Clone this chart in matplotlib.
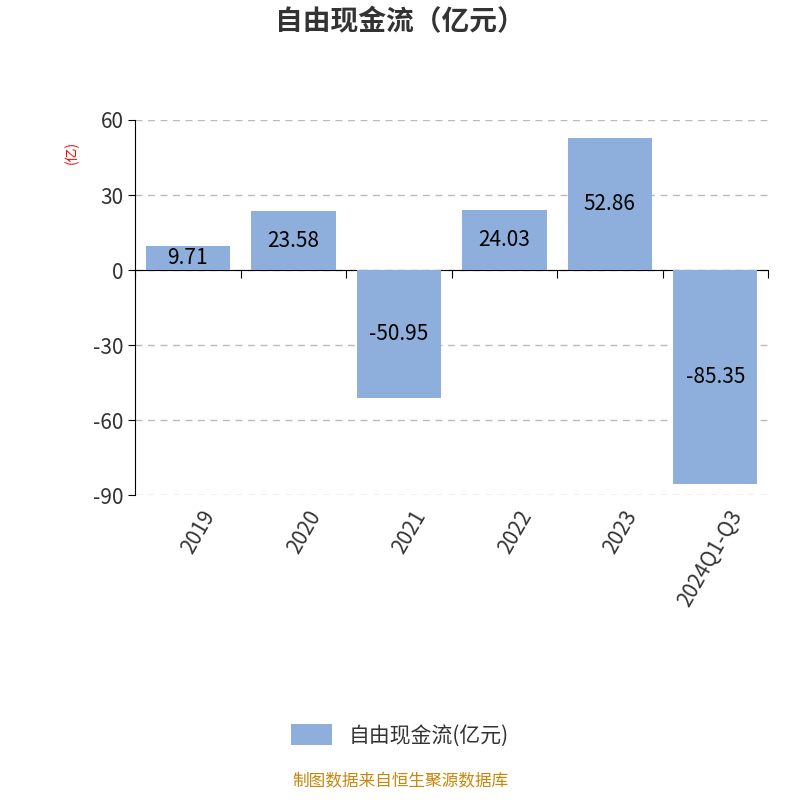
import numpy as np
import matplotlib
matplotlib.use('Agg')
import matplotlib.pyplot as plt
import matplotlib.transforms as mtransforms

plt.rcParams['font.family'] = ['Noto Sans CJK SC', 'DejaVu Sans']

BAR = '#8eaedb'
TXT = '#333333'

years = ['2019', '2020', '2021', '2022', '2023', '2024Q1-Q3']
values = [9.71, 23.58, -50.95, 24.03, 52.86, -85.35]
yticks = [60, 30, 0, -30, -60, -90]

fig = plt.figure(figsize=(8, 8), dpi=100)
ax = fig.add_axes([0.169, 0.381, 0.791, 0.469])
x = np.arange(len(years))
ax.bar(x, values, width=0.8, color=BAR, zorder=3)
ax.set_xlim(-0.5, len(years) - 0.5)
ax.set_ylim(-90, 60)
ax.set_yticks(yticks)
ax.set_yticklabels([str(v) for v in yticks], fontsize=15, color=TXT)
ax.tick_params(axis='y', length=5, color='black')
ax.grid(axis='y', linestyle=(0, (5, 4)), color='#bbbbbb', linewidth=1, zorder=0)
for s in ['top', 'right']:
    ax.spines[s].set_visible(False)
ax.spines['bottom'].set_position(('data', 0))
ax.spines['left'].set_color('black')
ax.set_xticks(np.arange(len(years) + 1) - 0.5)
ax.set_xticklabels([])
ax.tick_params(axis='x', length=6, direction='out', color='black')

for xi, v in zip(x, values):
    ax.text(xi, v / 2, f'{v:.2f}', ha='center', va='center', fontsize=15, color='black', zorder=4)

trans = mtransforms.blended_transform_factory(ax.transData, ax.transAxes)
for xi, lab in zip(x, years):
    ax.text(xi + 0.12, -0.03, lab, rotation=60, ha='right', va='top', fontsize=15,
            color=TXT, transform=trans, rotation_mode='anchor')

fig.text(0.09, 0.81, '(亿)', rotation=90, color='red', fontsize=10, ha='center', va='center')
fig.text(0.5, 0.972, '自由现金流（亿元）', ha='center', va='center', fontsize=20,
         fontweight='bold', color=TXT)

h = ax.bar([0], [0], color=BAR, label='自由现金流(亿元)')
leg = fig.legend(handles=[h], loc='center', bbox_to_anchor=(0.5, 0.081), frameon=False,
                 fontsize=15, handlelength=2.0, handleheight=1.2)
for t in leg.get_texts():
    t.set_color(TXT)
fig.text(0.5, 0.012, '制图数据来自恒生聚源数据库', ha='center', va='bottom', fontsize=12,
         color='#c8870a')

fig.savefig('out.png', dpi=100)
